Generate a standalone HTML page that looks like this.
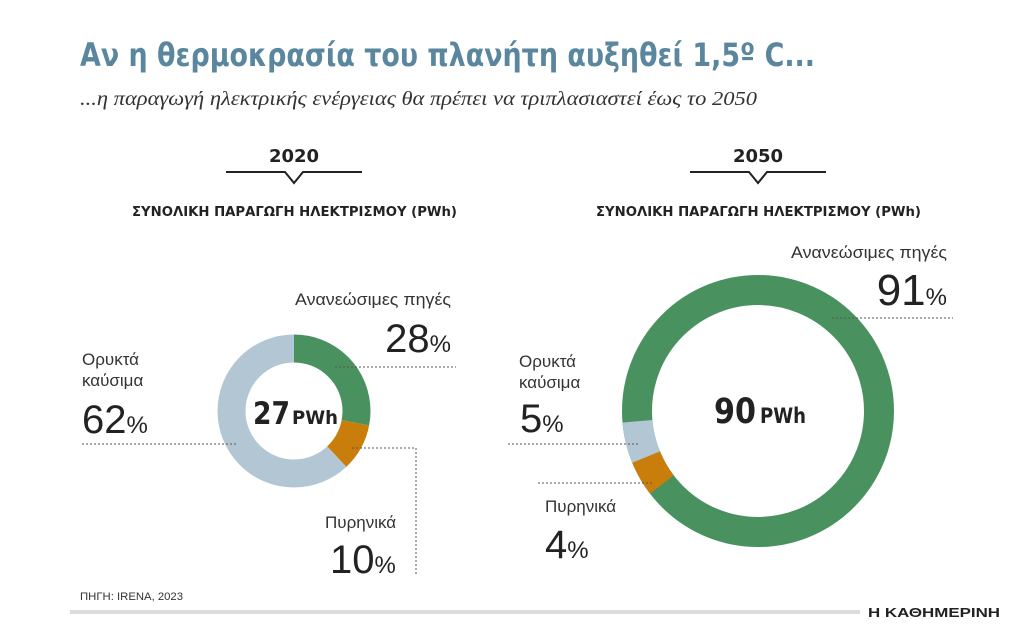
<!DOCTYPE html>
<html><head><meta charset="utf-8"><style>
html,body{margin:0;padding:0;background:#fff;width:1011px;height:639px;overflow:hidden}
svg{display:block}
text{font-family:"Liberation Sans","DejaVu Sans",sans-serif;fill:#222}
.t{font-family:"DejaVu Sans","Liberation Sans",sans-serif}
.lbl{font-size:17px;fill:#333}
.big{font-size:40px;fill:#222}
.pc{font-size:24px;fill:#222}
.dot{stroke:#555;stroke-width:1;stroke-dasharray:2 2;fill:none}
</style></head><body>
<svg width="1011" height="639" viewBox="0 0 1011 639">
<text class="t" x="80" y="66" font-size="32" font-weight="bold" style="fill:#5a879e" textLength="735" lengthAdjust="spacingAndGlyphs">Αν η θερμοκρασία του πλανήτη αυξηθεί 1,5º C...</text>
<text x="80" y="105" font-size="20" font-style="italic" style="font-family:'Liberation Serif',serif;fill:#333" textLength="677" lengthAdjust="spacingAndGlyphs">...η παραγωγή ηλεκτρικής ενέργειας θα πρέπει να τριπλασιαστεί έως το 2050</text>

<text class="t" x="294" y="162" font-size="18" font-weight="bold" text-anchor="middle">2020</text>
<polyline points="226,172 285,172 294,183 303,172 362,172" fill="none" stroke="#222" stroke-width="2"/>
<text class="t" x="132" y="216" font-size="13" font-weight="bold" textLength="325" lengthAdjust="spacingAndGlyphs">ΣΥΝΟΛΙΚΗ ΠΑΡΑΓΩΓΗ ΗΛΕΚΤΡΙΣΜΟΥ (PWh)</text>

<text class="t" x="758" y="162" font-size="18" font-weight="bold" text-anchor="middle">2050</text>
<polyline points="690,172 749,172 758,183 767,172 826,172" fill="none" stroke="#222" stroke-width="2"/>
<text class="t" x="596" y="216" font-size="13" font-weight="bold" textLength="325" lengthAdjust="spacingAndGlyphs">ΣΥΝΟΛΙΚΗ ΠΑΡΑΓΩΓΗ ΗΛΕΚΤΡΙΣΜΟΥ (PWh)</text>

<!-- donut 2020 -->
<g transform="translate(294,411) rotate(-90)" fill="none" stroke-width="28">
<circle r="62.5" stroke="#4a9160" stroke-dasharray="109.96 400"/>
<circle r="62.5" stroke="#c97d0a" stroke-dasharray="39.27 400" stroke-dashoffset="-109.96"/>
<circle r="62.5" stroke="#b2c7d3" stroke-dasharray="243.47 400" stroke-dashoffset="-149.23"/>
</g>
<text class="t" x="253" y="424" font-size="31" font-weight="bold" textLength="37" lengthAdjust="spacingAndGlyphs">27</text>
<text class="t" x="292" y="424" font-size="19" font-weight="bold" textLength="46" lengthAdjust="spacingAndGlyphs">PWh</text>

<text class="lbl" x="295" y="305" textLength="156" lengthAdjust="spacingAndGlyphs">Ανανεώσιμες πηγές</text>
<text x="451" y="352" text-anchor="end"><tspan class="big">28</tspan><tspan class="pc">%</tspan></text>
<line class="dot" x1="335" y1="367" x2="456" y2="367"/>
<text class="lbl" x="82" y="365">Ορυκτά</text>
<text class="lbl" x="82" y="386">καύσιμα</text>
<text x="82" y="433"><tspan class="big">62</tspan><tspan class="pc">%</tspan></text>
<line class="dot" x1="82" y1="444" x2="238" y2="444"/>
<polyline class="dot" points="352,448 416,448 416,575"/>
<text class="lbl" x="325" y="528">Πυρηνικά</text>
<text x="330" y="573"><tspan class="big">10</tspan><tspan class="pc">%</tspan></text>

<!-- donut 2050 -->
<g transform="translate(758,411) rotate(-90)" fill="none" stroke-width="30">
<circle r="121" stroke="#4a9160"/>
<circle r="121" stroke="#c97d0a" stroke-dasharray="31.68 800" stroke-dashoffset="-491.01"/>
<circle r="121" stroke="#b2c7d3" stroke-dasharray="36.96 800" stroke-dashoffset="-522.69"/>
</g>
<text class="t" x="714" y="423" font-size="35" font-weight="bold" textLength="42" lengthAdjust="spacingAndGlyphs">90</text>
<text class="t" x="760" y="423" font-size="21" font-weight="bold" textLength="46" lengthAdjust="spacingAndGlyphs">PWh</text>

<text class="lbl" x="791" y="258" textLength="156" lengthAdjust="spacingAndGlyphs">Ανανεώσιμες πηγές</text>
<text x="947" y="305" text-anchor="end"><tspan class="big" style="font-size:44px">91</tspan><tspan class="pc">%</tspan></text>
<line class="dot" x1="832" y1="318" x2="953" y2="318"/>
<text class="lbl" x="519" y="367">Ορυκτά</text>
<text class="lbl" x="519" y="388">καύσιμα</text>
<text x="520" y="432"><tspan class="big">5</tspan><tspan class="pc">%</tspan></text>
<line class="dot" x1="508" y1="444" x2="638" y2="444"/>
<line class="dot" x1="538" y1="483" x2="654" y2="483"/>
<text class="lbl" x="545" y="512">Πυρηνικά</text>
<text x="545" y="558"><tspan class="big">4</tspan><tspan class="pc">%</tspan></text>

<text x="80" y="600" font-size="11" style="fill:#333" textLength="103" lengthAdjust="spacingAndGlyphs">ΠΗΓΗ: IRENA, 2023</text>
<rect x="70" y="610" width="790" height="4" fill="#dcdcdc"/>
<text x="868" y="617" font-size="13" font-weight="bold" textLength="132" lengthAdjust="spacingAndGlyphs">Η ΚΑΘΗΜΕΡΙΝΗ</text>
</svg>
</body></html>
